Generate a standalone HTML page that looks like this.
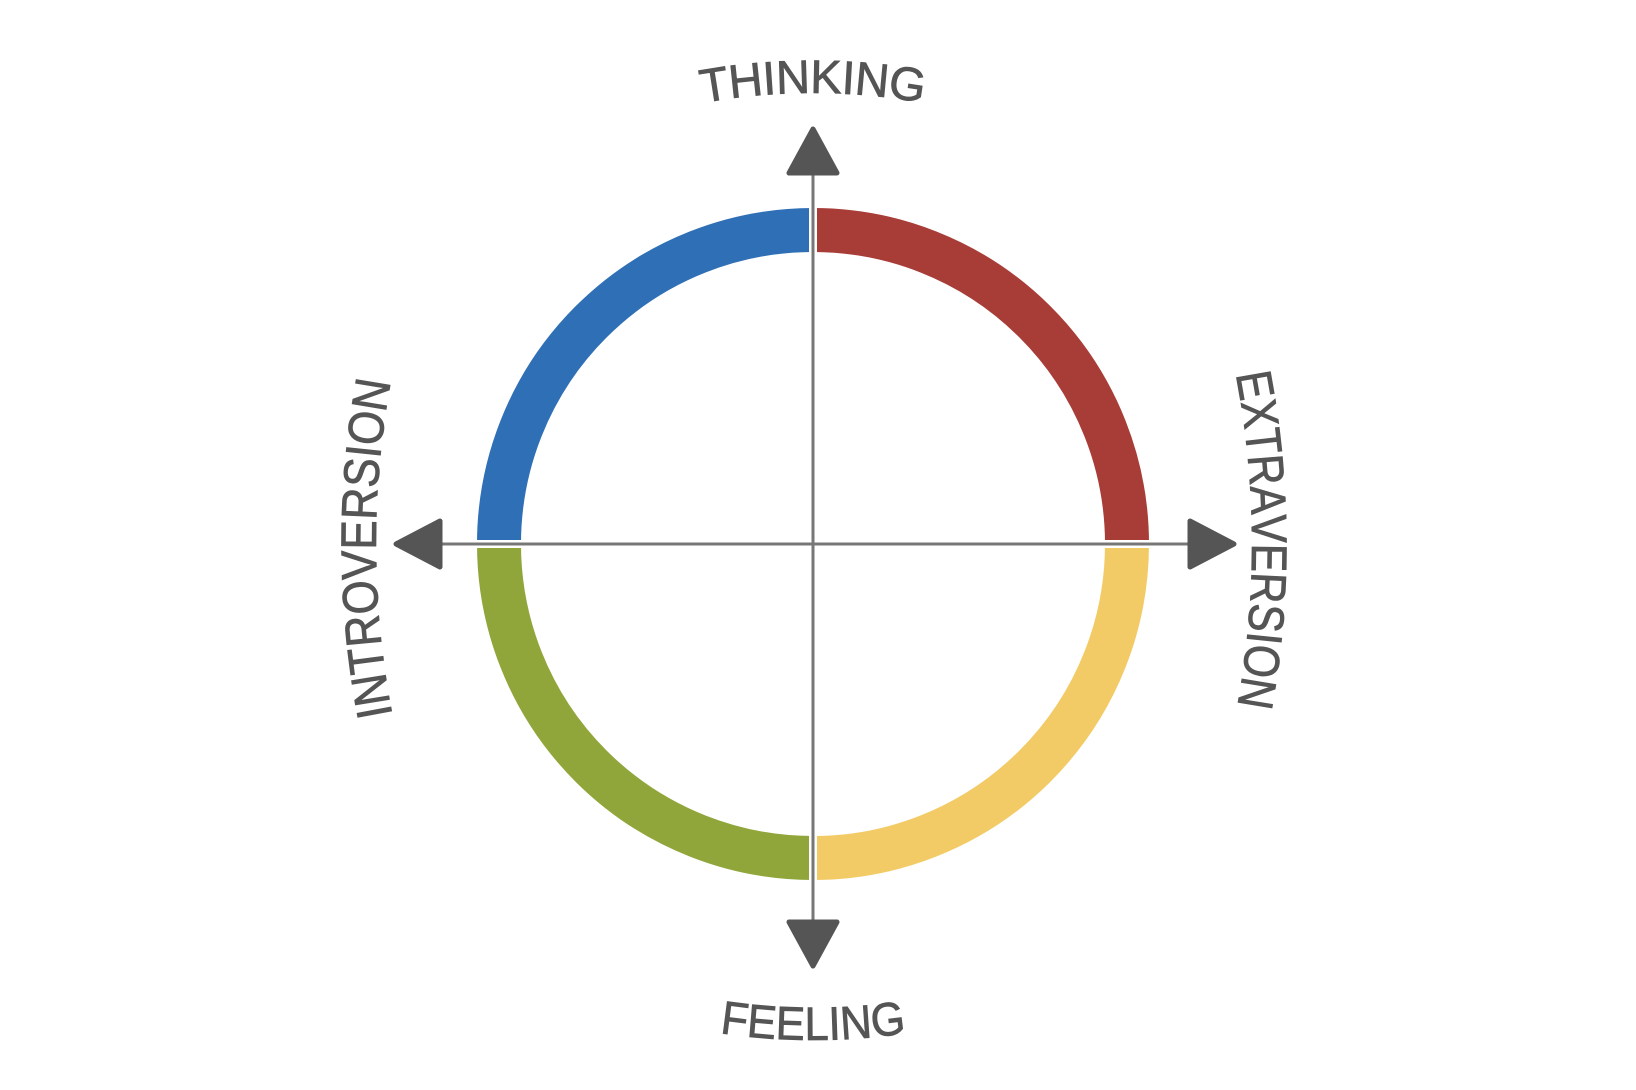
<!DOCTYPE html>
<html><head><meta charset="utf-8"><style>
html,body{margin:0;padding:0;background:#fff;}
svg{display:block;}
text{font-family:"Liberation Sans",sans-serif;fill:#555;stroke:#555;stroke-width:0.8;text-anchor:middle;}
</style></head><body>
<svg width="1636" height="1090" viewBox="0 0 1636 1090" xmlns="http://www.w3.org/2000/svg">
<path d="M 499 544 A 314 314 0 0 1 813 230" fill="none" stroke="#2f6fb6" stroke-width="44"/>
<path d="M 813 230 A 314 314 0 0 1 1127 544" fill="none" stroke="#a83c37" stroke-width="44"/>
<path d="M 1127 544 A 314 314 0 0 1 813 858" fill="none" stroke="#f3cb66" stroke-width="44"/>
<path d="M 813 858 A 314 314 0 0 1 499 544" fill="none" stroke="#90a63a" stroke-width="44"/>
<line x1="813" y1="200" x2="813" y2="890" stroke="#fff" stroke-width="8"/>
<line x1="470" y1="544" x2="1156" y2="544" stroke="#fff" stroke-width="8"/>
<line x1="813" y1="170" x2="813" y2="920" stroke="#777" stroke-width="3"/>
<line x1="440" y1="544" x2="1188" y2="544" stroke="#777" stroke-width="3"/>
<g fill="#555" stroke="#555" stroke-width="5" stroke-linejoin="round">
<polygon points="813,129 789,173 837,173"/>
<polygon points="813,966 789,922 837,922"/>
<polygon points="396,544 440,521 440,567"/>
<polygon points="1234,544 1190,521 1190,567"/>
</g>
<!-- THINKING -->
<g font-size="47">
<text transform="rotate(-8.95 813 712) translate(813 93)">T</text>
<text transform="rotate(-6.10 813 712) translate(813 93)">H</text>
<text transform="rotate(-3.96 813 712) translate(813 93)">I</text>
<text transform="rotate(-1.81 813 712) translate(813 93)">N</text>
<text transform="rotate(1.17 813 712) translate(813 93)">K</text>
<text transform="rotate(3.21 813 712) translate(813 93)">I</text>
<text transform="rotate(5.35 813 712) translate(813 93)">N</text>
<text transform="rotate(8.57 813 712) translate(813 93)">G</text>
</g>
<!-- INTROVERSION -->
<g font-size="50">
<text transform="rotate(-10.56 1276 544) translate(376 544) rotate(-90) scale(0.88 1)">I</text>
<text transform="rotate(-9.16 1276 544) translate(376 544) rotate(-90) scale(0.88 1)">N</text>
<text transform="rotate(-7.30 1276 544) translate(376 544) rotate(-90) scale(0.88 1)">T</text>
<text transform="rotate(-5.44 1276 544) translate(376 544) rotate(-90) scale(0.88 1)">R</text>
<text transform="rotate(-3.34 1276 544) translate(376 544) rotate(-90) scale(0.88 1)">O</text>
<text transform="rotate(-1.31 1276 544) translate(376 544) rotate(-90) scale(0.88 1)">V</text>
<text transform="rotate(0.57 1276 544) translate(376 544) rotate(-90) scale(0.88 1)">E</text>
<text transform="rotate(2.52 1276 544) translate(376 544) rotate(-90) scale(0.88 1)">R</text>
<text transform="rotate(4.47 1276 544) translate(376 544) rotate(-90) scale(0.88 1)">S</text>
<text transform="rotate(5.80 1276 544) translate(376 544) rotate(-90) scale(0.88 1)">I</text>
<text transform="rotate(7.28 1276 544) translate(376 544) rotate(-90) scale(0.88 1)">O</text>
<text transform="rotate(9.38 1276 544) translate(376 544) rotate(-90) scale(0.88 1)">N</text>
</g>
<!-- EXTRAVERSION -->
<g font-size="50">
<text transform="rotate(-9.98 352 544) translate(1252 544) rotate(90) scale(0.85 1)">E</text>
<text transform="rotate(-8.17 352 544) translate(1252 544) rotate(90) scale(0.85 1)">X</text>
<text transform="rotate(-6.44 352 544) translate(1252 544) rotate(90) scale(0.85 1)">T</text>
<text transform="rotate(-4.64 352 544) translate(1252 544) rotate(90) scale(0.85 1)">R</text>
<text transform="rotate(-2.76 352 544) translate(1252 544) rotate(90) scale(0.85 1)">A</text>
<text transform="rotate(-0.95 352 544) translate(1252 544) rotate(90) scale(0.85 1)">V</text>
<text transform="rotate(0.87 352 544) translate(1252 544) rotate(90) scale(0.85 1)">E</text>
<text transform="rotate(2.74 352 544) translate(1252 544) rotate(90) scale(0.85 1)">R</text>
<text transform="rotate(4.63 352 544) translate(1252 544) rotate(90) scale(0.85 1)">S</text>
<text transform="rotate(5.91 352 544) translate(1252 544) rotate(90) scale(0.85 1)">I</text>
<text transform="rotate(7.35 352 544) translate(1252 544) rotate(90) scale(0.85 1)">O</text>
<text transform="rotate(9.38 352 544) translate(1252 544) rotate(90) scale(0.85 1)">N</text>
</g>
<!-- FEELING -->
<g font-size="47">
<text transform="rotate(7.31 813 410) translate(813 1040) scale(0.93 1)">F</text>
<text transform="rotate(4.77 813 410) translate(813 1040) scale(0.93 1)">E</text>
<text transform="rotate(2.11 813 410) translate(813 1040) scale(0.93 1)">E</text>
<text transform="rotate(-0.34 813 410) translate(813 1040) scale(0.93 1)">L</text>
<text transform="rotate(-2.01 813 410) translate(813 1040) scale(0.93 1)">I</text>
<text transform="rotate(-4.00 813 410) translate(813 1040) scale(0.93 1)">N</text>
<text transform="rotate(-6.98 813 410) translate(813 1040) scale(0.93 1)">G</text>
</g>
</svg>
</body></html>
